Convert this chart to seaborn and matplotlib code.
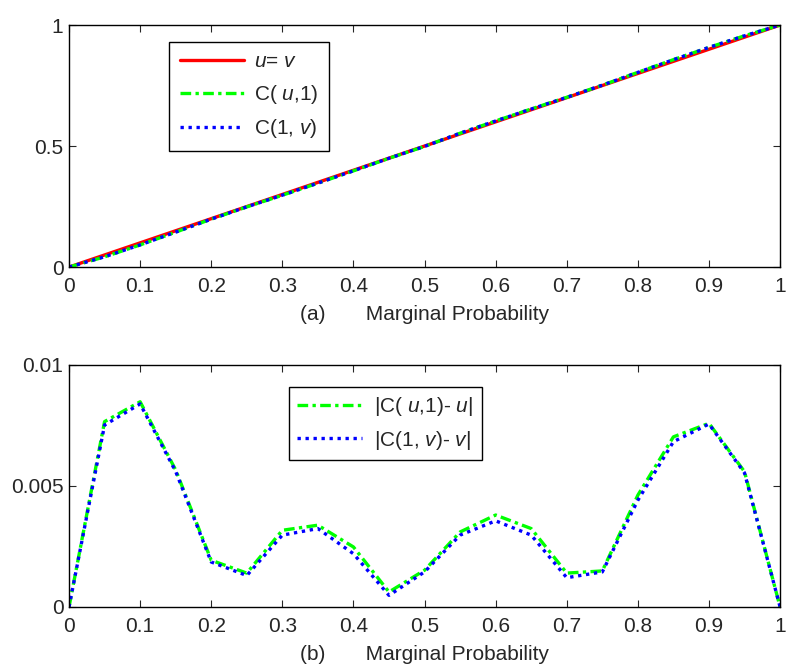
import numpy as np
import pandas as pd
import matplotlib
matplotlib.use("Agg")
import matplotlib.pyplot as plt
import seaborn as sns

# marginal probability grid (step 0.05)
u = [0.0, 0.05, 0.1, 0.15, 0.2, 0.25, 0.3, 0.35, 0.4, 0.45, 0.5,
     0.55, 0.6, 0.65, 0.7, 0.75, 0.8, 0.85, 0.9, 0.95, 1.0]

# panel (a): margins of the copula
c_u1 = [0.0, 0.0423, 0.0915, 0.1443, 0.1981, 0.2486, 0.2968, 0.3466, 0.3975, 0.4494, 0.4985,
        0.5531, 0.6038, 0.6532, 0.7014, 0.7515, 0.8046, 0.8570, 0.9076, 0.9556, 1.0]
c_1v = [0.0, 0.0425, 0.0916, 0.1444, 0.1981, 0.2487, 0.2970, 0.3468, 0.3978, 0.4495, 0.4986,
        0.5530, 0.6036, 0.6530, 0.7012, 0.7515, 0.8044, 0.8568, 0.9076, 0.9555, 1.0]

# panel (b): absolute errors
err_u = [0.0, 0.00766, 0.00848, 0.00566, 0.00193, 0.00140, 0.00317, 0.00338, 0.00248, 0.00062, 0.00152,
         0.00310, 0.00380, 0.00324, 0.00140, 0.00149, 0.00462, 0.00703, 0.00759, 0.00559, 0.0]
err_v = [0.0, 0.00752, 0.00839, 0.00560, 0.00186, 0.00130, 0.00297, 0.00324, 0.00220, 0.00048, 0.00145,
         0.00297, 0.00356, 0.00297, 0.00121, 0.00145, 0.00441, 0.00683, 0.00756, 0.00554, 0.0]

sns.set_style("ticks")
plt.rcParams['font.family'] = ['Liberation Sans', 'DejaVu Sans']
plt.rcParams['mathtext.fontset'] = 'custom'
plt.rcParams['mathtext.it'] = 'Liberation Sans:italic'
plt.rcParams['mathtext.rm'] = 'Liberation Sans'
plt.rcParams['xtick.direction'] = 'in'
plt.rcParams['ytick.direction'] = 'in'

fs = 15
dashdot = (0, (3.2, 1.3, 1.0, 1.3))
dotted = (0, (1.0, 1.4))

fig = plt.figure(figsize=(7.87, 6.66), dpi=100)
ax1 = fig.add_axes([0.0877, 0.599, 0.9035, 0.3634])
ax2 = fig.add_axes([0.0877, 0.0886, 0.9035, 0.3634])

#top panel
sns.lineplot(x=u, y=u, ax=ax1, color='#ff0000', lw=2.4, label='$u$= $v$')
sns.lineplot(x=u, y=c_u1, ax=ax1, color='#00ff00', lw=2.4, linestyle=dashdot, label='C( $u$,1)')
sns.lineplot(x=u, y=c_1v, ax=ax1, color='#0000ff', lw=2.4, linestyle=dotted, label='C(1, $v$)')

#bottom panel
sns.lineplot(x=u, y=err_u, ax=ax2, color='#00ff00', lw=2.4, linestyle=dashdot, label='|C( $u$,1)- $u$|')
sns.lineplot(x=u, y=err_v, ax=ax2, color='#0000ff', lw=2.4, linestyle=dotted, label='|C(1, $v$)- $v$|')

for ax in (ax1, ax2):
    ax.set_xlim(0, 1)
    ax.set_xticks(np.arange(0, 1.01, 0.1))
    ax.set_xticklabels(['0', '0.1', '0.2', '0.3', '0.4', '0.5', '0.6', '0.7', '0.8', '0.9', '1'])
    ax.tick_params(top=True, right=True, labelsize=fs, length=5, width=0.8)
    ax.tick_params(axis='x', pad=7.5)
    ax.tick_params(axis='y', pad=4)
    for s in ax.spines.values():
        s.set_visible(True)
        s.set_linewidth(1.0)
        s.set_color('black')

ax1.set_ylim(0, 1)
ax1.set_yticks([0, 0.5, 1])
ax1.set_yticklabels(['0', '0.5', '1'])
ax1.set_xlabel('(a)       Marginal Probability', fontsize=fs, labelpad=6)

ax2.set_ylim(0, 0.01)
ax2.set_yticks([0, 0.005, 0.01])
ax2.set_yticklabels(['0', '0.005', '0.01'])
ax2.set_xlabel('(b)       Marginal Probability', fontsize=fs, labelpad=6)

leg1 = ax1.legend(loc='upper left', bbox_to_anchor=(0.141, 0.93), borderaxespad=0, fontsize=fs,
                  handlelength=3.1, handletextpad=0.45, fancybox=False, edgecolor='black',
                  framealpha=1, borderpad=0.5, labelspacing=0.55)
leg1.get_frame().set_linewidth(1.0)
leg2 = ax2.legend(loc='upper left', bbox_to_anchor=(0.309, 0.909), borderaxespad=0, fontsize=fs,
                  handlelength=3.1, handletextpad=0.6, fancybox=False, edgecolor='black',
                  framealpha=1, borderpad=0.4, labelspacing=0.5)
leg2.get_frame().set_linewidth(1.0)

fig.savefig('out.png', dpi=100)
